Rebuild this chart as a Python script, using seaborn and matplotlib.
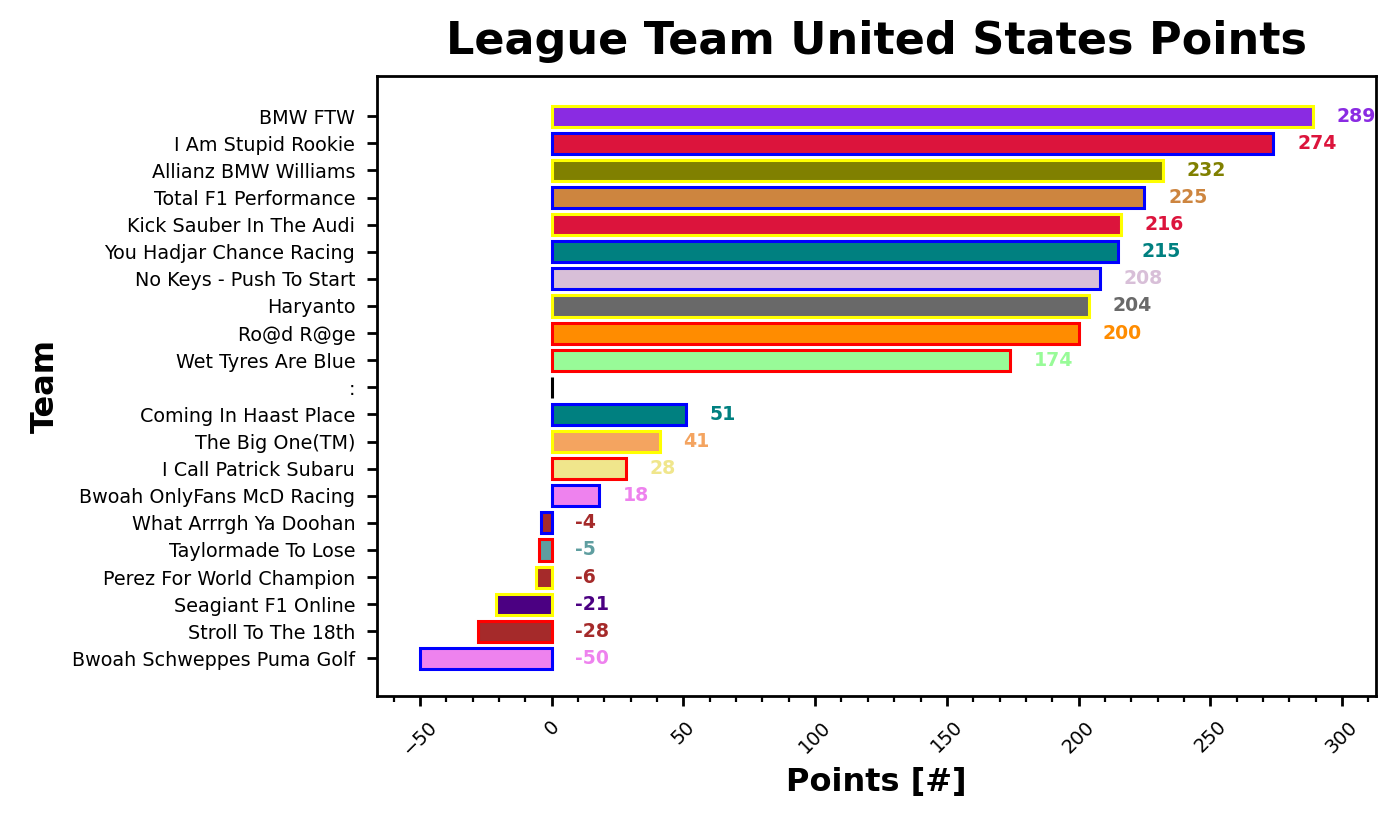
import matplotlib.pyplot as plt
import seaborn as sns
import pandas as pd
from matplotlib.ticker import MultipleLocator

teams = [
    "BMW FTW", "I Am Stupid Rookie", "Allianz BMW Williams",
    "Total F1 Performance", "Kick Sauber In The Audi",
    "You Hadjar Chance Racing", "No Keys - Push To Start", "Haryanto",
    "Ro@d R@ge", "Wet Tyres Are Blue", ":", "Coming In Haast Place",
    "The Big One(TM)", "I Call Patrick Subaru", "Bwoah OnlyFans McD Racing",
    "What Arrrgh Ya Doohan", "Taylormade To Lose", "Perez For World Champion",
    "Seagiant F1 Online", "Stroll To The 18th", "Bwoah Schweppes Puma Golf",
]
points = [289, 274, 232, 225, 216, 215, 208, 204, 200, 174, 0,
          51, 41, 28, 18, -4, -5, -6, -21, -28, -50]
fill_colors = [
    "blueviolet", "crimson", "olive", "peru", "crimson", "teal", "thistle",
    "dimgray", "darkorange", "palegreen", "black", "teal", "sandybrown",
    "khaki", "violet", "brown", "cadetblue", "brown", "indigo", "brown",
    "violet",
]
edge_colors = [
    "yellow", "blue", "yellow", "blue", "yellow", "blue", "blue", "yellow",
    "red", "red", "black", "blue", "yellow", "red", "blue", "blue", "red",
    "yellow", "yellow", "red", "blue",
]

df = pd.DataFrame({"team": teams, "points": points})

sns.set_style("ticks")
plt.rcParams["text.color"] = "black"
plt.rcParams["axes.labelcolor"] = "black"
plt.rcParams["xtick.color"] = "black"
plt.rcParams["ytick.color"] = "black"
plt.rcParams["axes.edgecolor"] = "black"

fig = plt.figure(figsize=(7, 4.15), dpi=200)
ax = fig.add_axes([0.269, 0.161, 0.714, 0.747])

sns.barplot(
    data=df, x="points", y="team", hue="team",
    palette=dict(zip(teams, fill_colors)), legend=False,
    orient="h", width=0.78, saturation=1, ax=ax,
)
for patch, ec in zip(ax.patches, edge_colors):
    patch.set_edgecolor(ec)
    patch.set_linewidth(1.1)

# Value labels, coloured like their bars.
for i, (val, col) in enumerate(zip(points, fill_colors)):
    if teams[i] == ":":
        continue
    ax.text(max(val, 0) + 9, i, f"{val}", color=col, fontsize=6.8,
            fontweight="bold", va="center", ha="left")

ax.set_xlim(-66.5, 313)
ax.set_ylim(21.4, -1.47)
ax.xaxis.set_major_locator(MultipleLocator(50))
ax.xaxis.set_minor_locator(MultipleLocator(10))
ax.tick_params(axis="x", labelrotation=45, labelsize=6.9, length=3.5,
               width=1.0, pad=4)
ax.tick_params(axis="x", which="minor", length=2, width=0.8)
ax.tick_params(axis="y", labelsize=6.9, length=3.5, width=1.0, pad=4.2)
for spine in ax.spines.values():
    spine.set_linewidth(1.0)
    spine.set_visible(True)

ax.set_title("League Team United States Points", fontsize=16,
             fontweight="bold", pad=8)
ax.set_xlabel("Points [#]", fontsize=11.5, fontweight="bold", labelpad=3)
ax.set_ylabel("Team", fontsize=11.5, fontweight="bold", labelpad=4)

fig.savefig("out.png", dpi=200)
plt.close(fig)
